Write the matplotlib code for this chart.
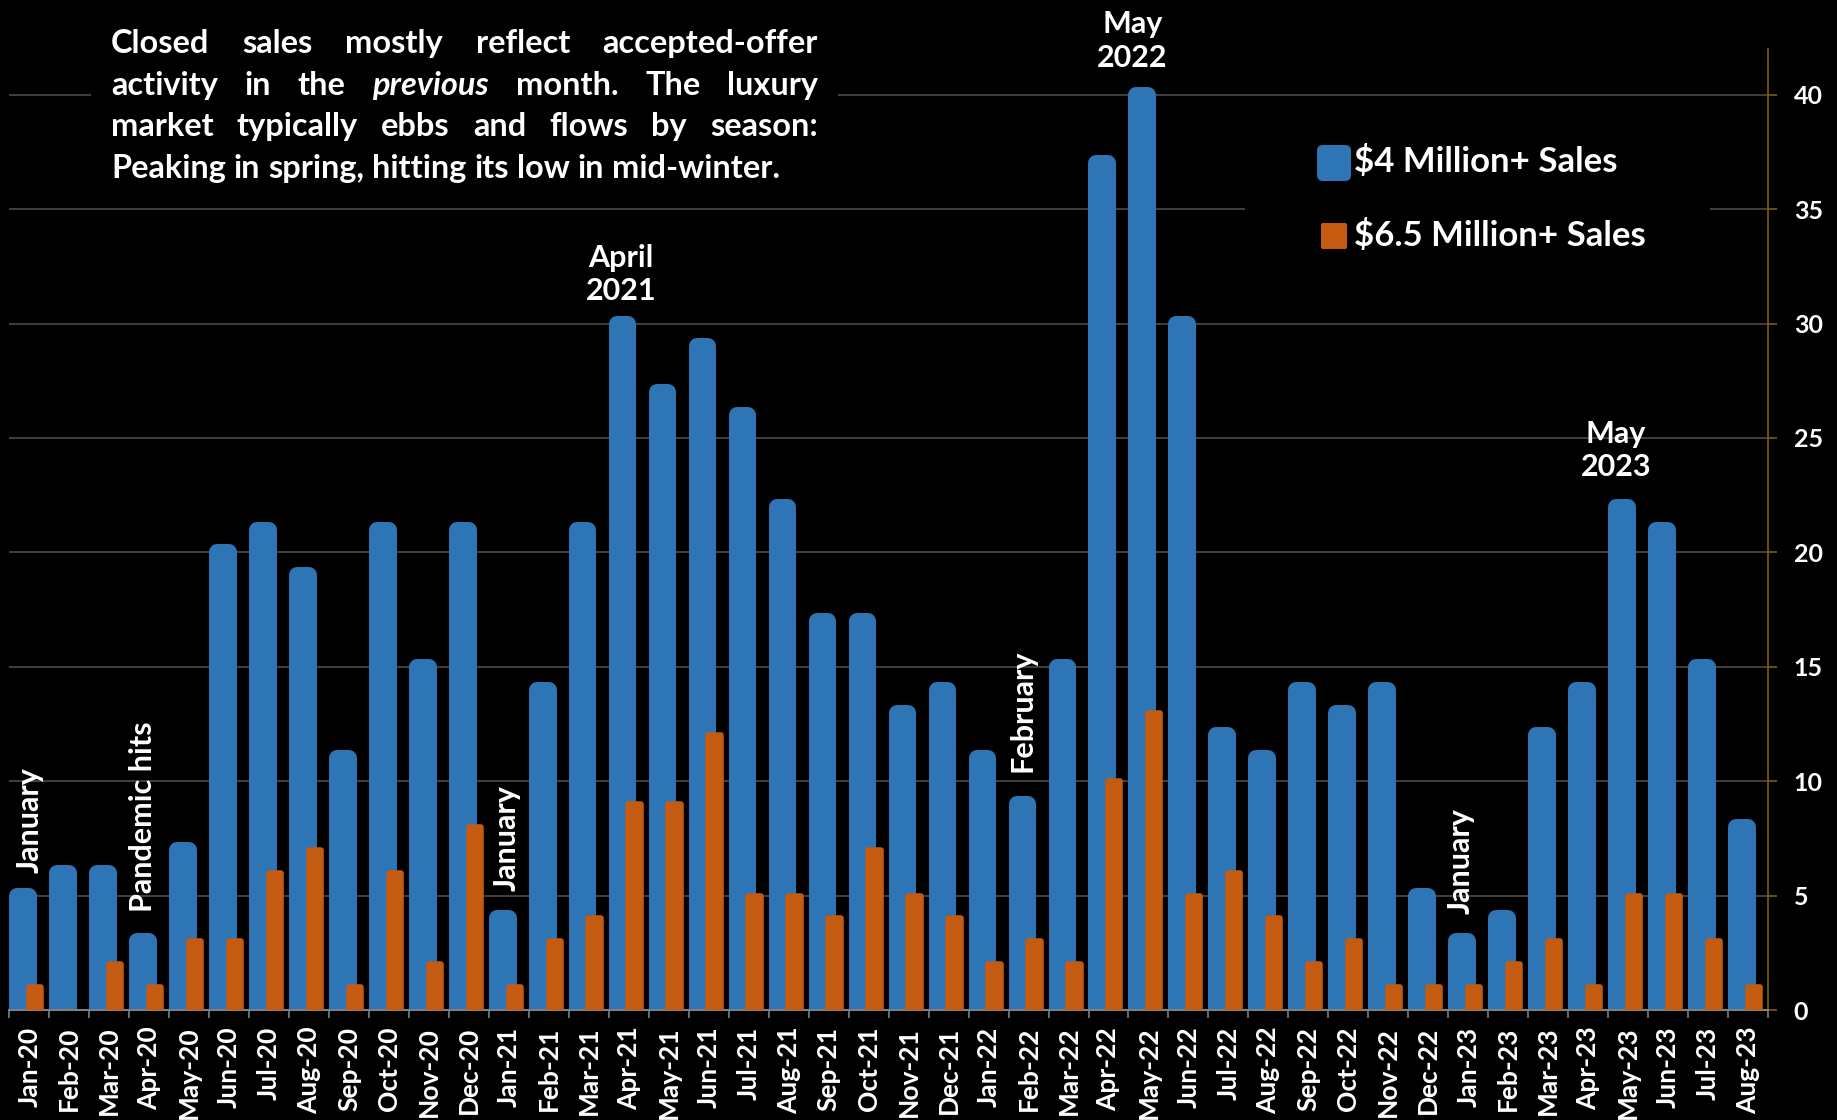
import matplotlib
matplotlib.use("Agg")
import matplotlib.pyplot as plt
import numpy as np
from matplotlib.patches import Rectangle, FancyBboxPatch
from matplotlib.transforms import IdentityTransform

# ---- data ----
months = ["Jan-20", "Feb-20", "Mar-20", "Apr-20", "May-20", "Jun-20", "Jul-20", "Aug-20",
          "Sep-20", "Oct-20", "Nov-20", "Dec-20", "Jan-21", "Feb-21", "Mar-21", "Apr-21",
          "May-21", "Jun-21", "Jul-21", "Aug-21", "Sep-21", "Oct-21", "Nov-21", "Dec-21",
          "Jan-22", "Feb-22", "Mar-22", "Apr-22", "May-22", "Jun-22", "Jul-22", "Aug-22",
          "Sep-22", "Oct-22", "Nov-22", "Dec-22", "Jan-23", "Feb-23", "Mar-23", "Apr-23",
          "May-23", "Jun-23", "Jul-23", "Aug-23"]
sales_4m = [5, 6, 6, 3, 7, 20, 21, 19, 11, 21, 15, 21,
            4, 14, 21, 30, 27, 29, 26, 22, 17, 17, 13, 14,
            11, 9, 15, 37, 40, 30, 12, 11, 14, 13, 14, 5,
            3, 4, 12, 14, 22, 21, 15, 8]
sales_65m = [1, 0, 2, 1, 3, 3, 6, 7, 1, 6, 2, 8,
             1, 3, 4, 9, 9, 12, 5, 5, 4, 7, 5, 4,
             2, 3, 2, 10, 13, 5, 6, 4, 2, 3, 1, 1,
             1, 2, 3, 1, 5, 5, 3, 1]
series_names = [r"\$4 Million+ Sales", r"\$6.5 Million+ Sales"]

note_lines = ["Closed sales mostly reflect accepted-offer",
              "activity in the *previous* month. The luxury",
              "market typically ebbs and flows by season:",
              "Peaking in spring, hitting its low in mid-winter."]

# (text, x, y, rotation)
callouts = [("January", 0.0, 6.0, 90),
            ("Pandemic hits", 2.85, 4.3, 90),
            ("January", 11.95, 5.2, 90),
            ("April\n2021", 14.8, 30.8, 0),
            ("February", 24.85, 10.4, 90),
            ("May\n2022", 27.6, 41.0, 0),
            ("January", 35.8, 4.2, 90),
            ("May\n2023", 39.7, 23.1, 0)]

BLUE = "#2E75B6"
ORANGE = "#C55A11"
GRID = "#404040"
GOLD = "#7F6000"
BASE = "#7F7F7F"

plt.rcParams["font.family"] = ["Lato", "DejaVu Sans"]
plt.rcParams["font.weight"] = "bold"

W, H = 1837, 1120
fig = plt.figure(figsize=(W / 100, H / 100), dpi=100, facecolor="black")
ax = fig.add_axes([9.3 / W, 1 - 1010 / H, (1768 - 9.3) / W, (1010 - 49) / H])
ax.set_facecolor("black")
px = IdentityTransform()

x = np.arange(len(months))
blue = ax.bar(x - 0.155, sales_4m, width=0.29, color=BLUE, edgecolor=BLUE,
              linewidth=11.5, joinstyle="round", zorder=2)
orange = ax.bar(x + 0.145, sales_65m, width=0.31, color=ORANGE, edgecolor=ORANGE,
                linewidth=4, joinstyle="round", zorder=3)
for p, v in zip(orange, sales_65m):
    if v == 0:
        p.set_linewidth(0)

# axes styling
for s in ["left", "top"]:
    ax.spines[s].set_visible(False)
ax.spines["right"].set_color(GOLD)
ax.spines["right"].set_linewidth(1.2)
ax.spines["bottom"].set_color(BASE)
ax.spines["bottom"].set_linewidth(1.5)

ax.yaxis.tick_right()
ax.set_yticks(range(0, 41, 5))
ax.tick_params(axis="y", colors=GOLD, labelcolor="white", length=6.5, width=1.2,
               labelsize=18, pad=12)

ax.set_xticks(x)
ax.set_xticklabels(months, rotation=90, color="white", fontsize=19)
ax.set_xticks(np.arange(-0.5, len(months), 1), minor=True)
ax.tick_params(axis="x", which="major", length=0, pad=12)
ax.tick_params(axis="x", which="minor", length=6, color=BASE, width=1.2)

ax.grid(axis="y", color=GRID, linewidth=1.4)
ax.set_axisbelow(True)

# black boxes behind the note and legend (hide gridlines)
for (x0, y0, x1, y1) in [(91, 0, 838, 200), (1245, 110, 1710, 280)]:
    ax.add_artist(Rectangle((x0, H - y1), x1 - x0, y1 - y0, transform=px,
                            facecolor="black", edgecolor="none", zorder=1))

# callouts
for txt, cx, cy, rot in callouts:
    ax.text(cx, cy, txt, rotation=rot, ha="center", va="bottom", color="white",
            fontsize=22, linespacing=1.25, zorder=5)

# legend
fig.add_artist(FancyBboxPatch((1317, H - 181), 34, 36, boxstyle="round,pad=0,rounding_size=6",
                              transform=px, facecolor=BLUE, edgecolor="none"))
fig.add_artist(FancyBboxPatch((1321, H - 249), 26, 26, boxstyle="round,pad=0,rounding_size=2",
                              transform=px, facecolor=ORANGE, edgecolor="none"))
fig.text(1354, H - 162, series_names[0], transform=px, color="white", fontsize=25,
         va="center", ha="left")
fig.text(1354, H - 236, series_names[1], transform=px, color="white", fontsize=25,
         va="center", ha="left")

# justified note paragraph
note_left, note_right = 111, 818
note_baselines = [53, 95, 136, 178]
note_size = 23.4
r = fig.canvas.get_renderer()
probe1 = fig.text(0, 0, "x x", fontsize=note_size)
probe2 = fig.text(0, 0, "xx", fontsize=note_size)
space_w = probe1.get_window_extent(r).width - probe2.get_window_extent(r).width
probe1.remove()
probe2.remove()
for i, (line, base) in enumerate(zip(note_lines, note_baselines)):
    words = line.split()
    texts = []
    for w in words:
        style = "italic" if w.startswith("*") else "normal"
        t = fig.text(0, H - base, w.strip("*"), transform=px, color="white",
                     fontsize=note_size, fontstyle=style, va="baseline", ha="left")
        texts.append(t)
    widths = [t.get_window_extent(r).width for t in texts]
    if i < len(note_lines) - 1:
        gap = (note_right - note_left - sum(widths)) / (len(words) - 1)
    else:
        gap = space_w
    pos = note_left
    for t, w in zip(texts, widths):
        t.set_x(pos)
        pos += w + gap

ax.set_xlim(-0.5, len(months) - 0.5)
ax.set_ylim(0, 42)

fig.savefig("out.png", dpi=100, facecolor="black")
